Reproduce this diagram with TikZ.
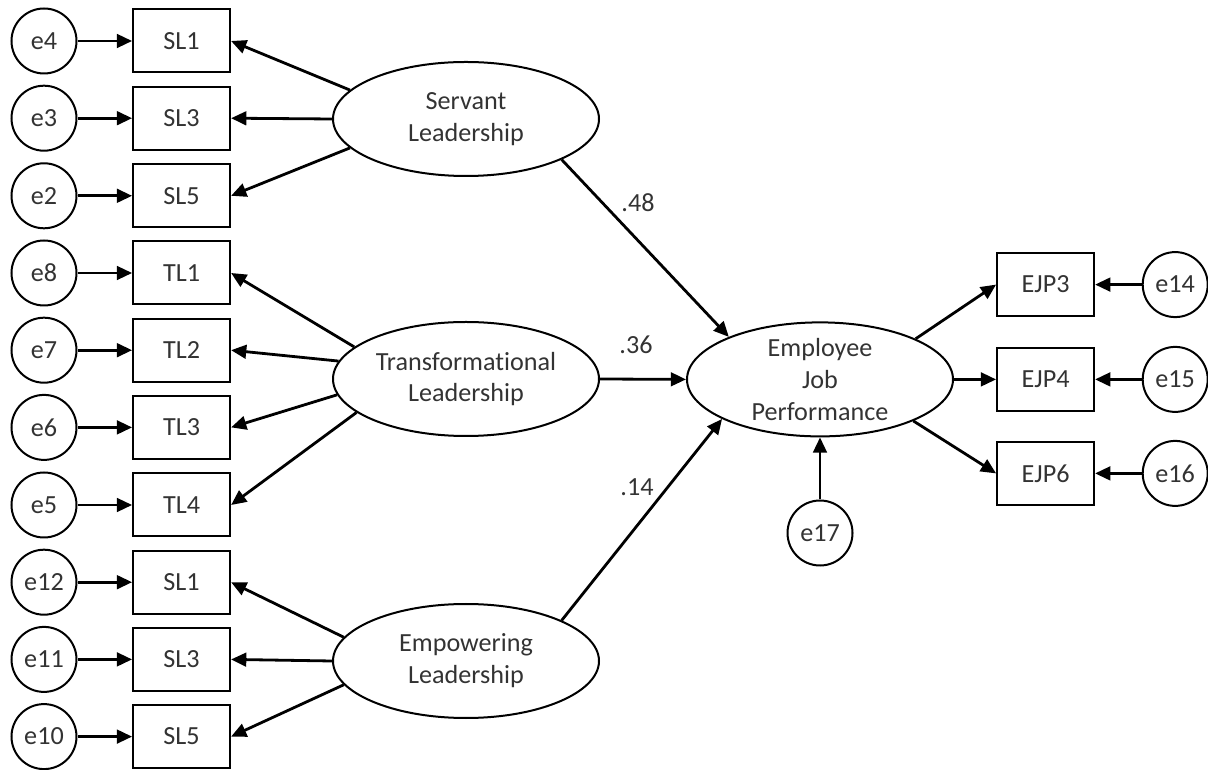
\documentclass[tikz,border=0pt]{standalone}
\usepackage{fontspec}
\setmainfont{Carlito}[Ligatures=NoCommon]
\usetikzlibrary{arrows.meta,shapes.geometric}

\tikzset{
	every node/.style={font=\fontsize{18.6}{22.7}\selectfont, text=black!80},
	ind/.style={draw, line width=0.5mm, minimum width=2.425cm, minimum height=1.575cm, inner sep=0pt},
	err/.style={draw, circle, line width=0.5mm, minimum size=1.625cm, inner sep=0pt},
	lat/.style={draw, ellipse, line width=0.5mm, minimum width=6.65cm, minimum height=2.85cm, inner sep=0pt, align=center},
	arr/.style={line width=0.7mm, -{Triangle[length=3.8mm, width=3.4mm]}},
}

\begin{document}
\begin{tikzpicture}
			%%%%% START %%%%%
			\useasboundingbox (0, 0) rectangle (30.2, 19.225);
			
			% indicators on the left
			\node[ind] (slA1) at (4.54, 18.2) {SL1};
			\node[ind] (slA3) at (4.54, 16.27) {SL3};
			\node[ind] (slA5) at (4.54, 14.33) {SL5};
			\node[ind] (tl1) at (4.54, 12.4) {TL1};
			\node[ind] (tl2) at (4.54, 10.47) {TL2};
			\node[ind] (tl3) at (4.54, 8.54) {TL3};
			\node[ind] (tl4) at (4.54, 6.6) {TL4};
			\node[ind] (slB1) at (4.54, 4.67) {SL1};
			\node[ind] (slB3) at (4.54, 2.74) {SL3};
			\node[ind] (slB5) at (4.54, 0.81) {SL5};
			
			% their error terms
			\node[err] (e4) at (1.1, 18.2) {e4};
			\node[err] (e3) at (1.1, 16.27) {e3};
			\node[err] (e2) at (1.1, 14.33) {e2};
			\node[err] (e8) at (1.1, 12.4) {e8};
			\node[err] (e7) at (1.1, 10.47) {e7};
			\node[err] (e6) at (1.1, 8.54) {e6};
			\node[err] (e5) at (1.1, 6.6) {e5};
			\node[err] (e12) at (1.1, 4.67) {e12};
			\node[err] (e11) at (1.1, 2.74) {e11};
			\node[err] (e10) at (1.1, 0.81) {e10};
			
			\draw[arr] (e4) -- (slA1);
			\draw[arr] (e3) -- (slA3);
			\draw[arr] (e2) -- (slA5);
			\draw[arr] (e8) -- (tl1);
			\draw[arr] (e7) -- (tl2);
			\draw[arr] (e6) -- (tl3);
			\draw[arr] (e5) -- (tl4);
			\draw[arr] (e12) -- (slB1);
			\draw[arr] (e11) -- (slB3);
			\draw[arr] (e10) -- (slB5);
			
			% latent variables
			\node[lat] (sl) at (11.65, 16.25) {Servant\\Leadership};
			\node[lat] (tl) at (11.65, 9.75) {Transformational\\Leadership};
			\node[lat] (el) at (11.65, 2.7) {Empowering\\Leadership};
			\node[lat, inner ysep=-2.5mm] (ejp) at (20.5, 9.74) {Employee\\Job\\Performance};
			
			\draw[arr] (sl.166) -- (slA1.east);
			\draw[arr] (sl.west) -- (slA3.east);
			\draw[arr] (sl.194) -- (slA5.east);
			
			\draw[arr] (tl.164.4) -- (tl1.east);
			\draw[arr] (tl.172.9) -- (tl2.east);
			\draw[arr] (tl.187.1) -- (tl3.east);
			\draw[arr] (tl.197.6) -- (tl4.east);
			
			\draw[arr] (el.169.5) -- (slB1.east);
			\draw[arr] (el.west) -- (slB3.east);
			\draw[arr] (el.191) -- (slB5.east);
			
			% structural paths
			\draw[arr] (sl.337) -- (ejp.155.6);
			\draw[arr] (tl.east) -- (ejp.west);
			\draw[arr] (el.23.6) -- (ejp.202.8);
			\node (w48) at (15.95, 14.15) {.48};
			\node (w36) at (15.9, 10.6) {.36};
			\node (w14) at (15.925, 7.05) {.14};
			
			% outcome side
			\node[ind] (ejp3) at (26.14, 12.11) {EJP3};
			\node[ind] (ejp4) at (26.14, 9.74) {EJP4};
			\node[ind] (ejp6) at (26.14, 7.39) {EJP6};
			\node[err] (e14) at (29.38, 12.11) {e14};
			\node[err] (e15) at (29.38, 9.74) {e15};
			\node[err] (e16) at (29.38, 7.39) {e16};
			\node[err] (e17) at (20.5, 5.9) {e17};
			
			\draw[arr] (ejp.23.6) -- (ejp3.west);
			\draw[arr] (ejp.east) -- (ejp4.west);
			\draw[arr] (ejp.336.9) -- (ejp6.west);
			\draw[arr] (e14) -- (ejp3);
			\draw[arr] (e15) -- (ejp4);
			\draw[arr] (e16) -- (ejp6);
			\draw[arr] (e17) -- (ejp);
			
			%%%%% END %%%%%
\end{tikzpicture}
\end{document}
